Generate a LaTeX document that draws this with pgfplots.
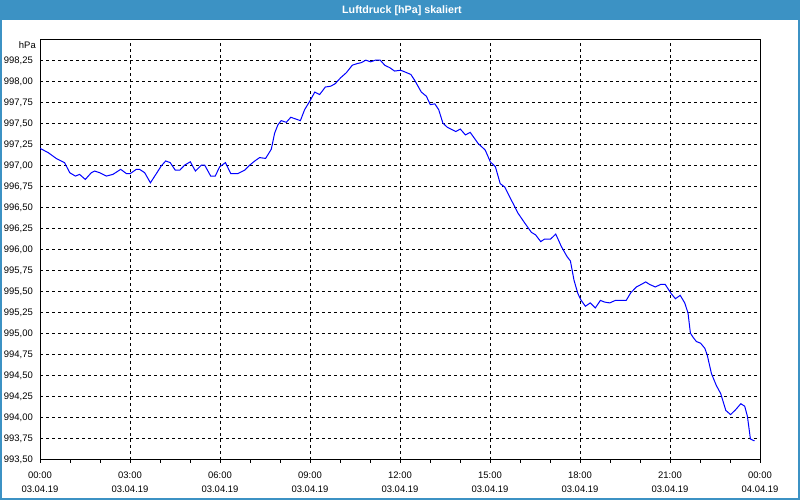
\documentclass[border=0pt]{standalone}
\usepackage{pgfplots}
\pgfplotsset{compat=1.18}
\usepackage{fontspec}
\setmainfont{Liberation Sans}
\definecolor{tbblue}{RGB}{60,146,196}
\definecolor{lineblue}{RGB}{0,0,255}
\begin{document}
\begin{tikzpicture}[x=1bp,y=1bp]
\path[use as bounding box] (0,0) rectangle (800,500);
\fill[white] (0,0) rectangle (800,500);
\fill[tbblue] (0,479.5) rectangle (800,500);
\node[text=white, font=\bfseries\fontsize{10.75}{12}\selectfont, inner sep=0pt] at (402,489.5) {Luftdruck [hPa] skaliert};
\draw[tbblue, line width=2bp] (1,1) rectangle (799,499);
\node[anchor=east, inner sep=0pt, font=\fontsize{9.5}{11}\selectfont] at (36,455) {hPa};
\begin{axis}[
  at={(40bp,40bp)}, anchor=south west,
  width=720bp, height=420bp, scale only axis,
  xmin=0, xmax=24, ymin=993.5, ymax=998.5,
  xtick={0,3,6,9,12,15,18,21,24},
  minor xtick={1,2,4,5,7,8,10,11,13,14,16,17,19,20,22,23},
  xticklabels={{00:00\\03.04.19},{03:00\\03.04.19},{06:00\\03.04.19},{09:00\\03.04.19},{12:00\\03.04.19},{15:00\\03.04.19},{18:00\\03.04.19},{21:00\\03.04.19},{00:00\\04.04.19}},
  ytick={993.5,993.75,994,994.25,994.5,994.75,995,995.25,995.5,995.75,996,996.25,996.5,996.75,997,997.25,997.5,997.75,998,998.25},
  yticklabels={{993,50},{993,75},{994,00},{994,25},{994,50},{994,75},{995,00},{995,25},{995,50},{995,75},{996,00},{996,25},{996,50},{996,75},{997,00},{997,25},{997,50},{997,75},{998,00},{998,25}},
  xtick pos=left, ytick pos=left,
  tick align=outside,
  major tick length=3bp, minor tick length=3bp,
  ytick style={draw=none},
  tick style={black, line width=1bp},
  grid=major,
  major grid style={black, line width=1bp, dash pattern=on 3bp off 3bp},
  axis line style={black, line width=1bp},
  xticklabel style={align=center, inner sep=0pt, font=\fontsize{9.5}{14}\selectfont, yshift=-8.5bp},
  yticklabel style={anchor=east, inner sep=0pt, font=\fontsize{9.5}{11}\selectfont, xshift=-4bp},
]
\addplot[lineblue, line width=1bp] table {
x y
0.00 997.21
0.27 997.16
0.54 997.09
0.82 997.04
0.99 996.92
1.18 996.88
1.32 996.90
1.51 996.84
1.71 996.92
1.82 996.94
1.99 996.92
2.21 996.88
2.43 996.90
2.69 996.96
2.88 996.91
3.01 996.91
3.21 996.96
3.32 996.96
3.49 996.92
3.68 996.80
3.88 996.91
4.04 997.00
4.19 997.06
4.34 997.04
4.51 996.95
4.66 996.95
4.82 997.01
5.01 997.05
5.18 996.94
5.38 997.01
5.49 997.01
5.69 996.88
5.84 996.88
5.99 996.99
6.18 997.04
6.36 996.91
6.60 996.91
6.82 996.95
6.99 997.01
7.16 997.06
7.32 997.10
7.52 997.09
7.71 997.20
7.82 997.39
7.93 997.49
8.04 997.54
8.21 997.52
8.36 997.58
8.52 997.56
8.68 997.54
8.82 997.67
8.99 997.77
9.16 997.88
9.32 997.85
9.51 997.94
9.69 997.95
9.84 997.98
10.02 998.05
10.21 998.11
10.41 998.20
10.58 998.22
10.71 998.23
10.86 998.26
11.02 998.24
11.18 998.26
11.34 998.26
11.49 998.20
11.66 998.17
11.82 998.13
12.02 998.14
12.16 998.12
12.36 998.09
12.49 998.02
12.71 997.88
12.88 997.83
13.01 997.73
13.16 997.74
13.29 997.67
13.43 997.51
13.58 997.46
13.86 997.41
14.01 997.44
14.18 997.37
14.34 997.40
14.60 997.27
14.84 997.19
15.01 997.05
15.18 996.99
15.34 996.79
15.49 996.75
15.66 996.63
15.93 996.44
16.16 996.32
16.38 996.21
16.52 996.18
16.69 996.10
16.82 996.13
17.02 996.13
17.19 996.19
17.38 996.04
17.57 995.92
17.68 995.87
17.80 995.64
17.93 995.48
18.04 995.40
18.18 995.33
18.34 995.37
18.51 995.31
18.68 995.40
18.82 995.38
18.99 995.37
19.18 995.40
19.54 995.40
19.69 995.49
19.88 995.56
20.04 995.59
20.19 995.62
20.32 995.59
20.51 995.56
20.69 995.59
20.84 995.59
21.04 995.48
21.18 995.42
21.34 995.46
21.49 995.37
21.60 995.25
21.68 995.01
21.77 994.96
21.88 994.91
22.02 994.89
22.16 994.83
22.24 994.75
22.38 994.53
22.54 994.39
22.69 994.29
22.86 994.09
23.02 994.04
23.19 994.10
23.36 994.17
23.49 994.14
23.58 994.02
23.68 993.75
23.79 993.73
23.82 993.73
};
\end{axis}
\end{tikzpicture}
\end{document}
